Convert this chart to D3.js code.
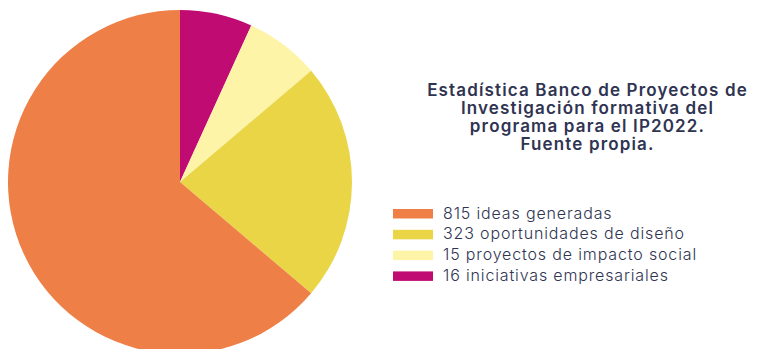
<!DOCTYPE html>
<html>
<head>
<meta charset="utf-8">
<script src="https://cdn.jsdelivr.net/npm/d3@7"></script>
<style>
  html, body { margin: 0; padding: 0; background: #ffffff; }
  svg { display: block; }
  text { font-family: "Inter", "Noto Sans", sans-serif; fill: #2f3452; }
</style>
</head>
<body>
<svg id="chart" width="766" height="349"></svg>
<script>
// Legend entries, in legend order
const categories = [
  "815 ideas generadas",
  "323 oportunidades de diseño",
  "15 proyectos de impacto social",
  "16 iniciativas empresariales"
];
// Share of the pie given to each entry (percent)
const shares = [63.8, 22.4, 7.0, 6.8];
const colors = ["#ee7f47", "#e9d545", "#fef4a8", "#c00c72"];
const titleLines = [
  "Estadística Banco de Proyectos de",
  "Investigación formativa del",
  "programa para el IP2022.",
  "Fuente propia."
];

const svg = d3.select("#chart");
const rows = categories.map((c, i) => ({ label: c, share: shares[i], color: colors[i] }));

// Pie: drawn clockwise from 12 o'clock, last legend entry first
const cx = 180, cy = 182, radius = 172;
const pie = d3.pie().sort(null).value(d => d.share);
const arc = d3.arc().innerRadius(0).outerRadius(radius);

svg.append("g")
  .attr("transform", `translate(${cx},${cy})`)
  .selectAll("path")
  .data(pie(rows.slice().reverse()))
  .join("path")
  .attr("d", arc)
  .attr("fill", d => d.data.color);

// Title block
svg.append("g")
  .selectAll("text")
  .data(titleLines)
  .join("text")
  .attr("x", 587.5)
  .attr("y", (d, i) => 96 + i * 18)
  .attr("text-anchor", "middle")
  .attr("font-size", 17)
  .attr("font-weight", 600)
  .attr("letter-spacing", 1.15)
  .text(d => d);

// Legend
const legend = svg.append("g").attr("transform", "translate(393,209)");
const item = legend.selectAll("g")
  .data(rows)
  .join("g")
  .attr("transform", (d, i) => `translate(0,${i * 20.8})`);
item.append("rect")
  .attr("width", 40)
  .attr("height", 9.5)
  .attr("fill", d => d.color);
item.append("text")
  .attr("x", 50)
  .attr("y", 9.5)
  .attr("font-size", 16)
  .attr("font-weight", 300)
  .attr("letter-spacing", 0.85)
  .text(d => d.label);
</script>
</body>
</html>
